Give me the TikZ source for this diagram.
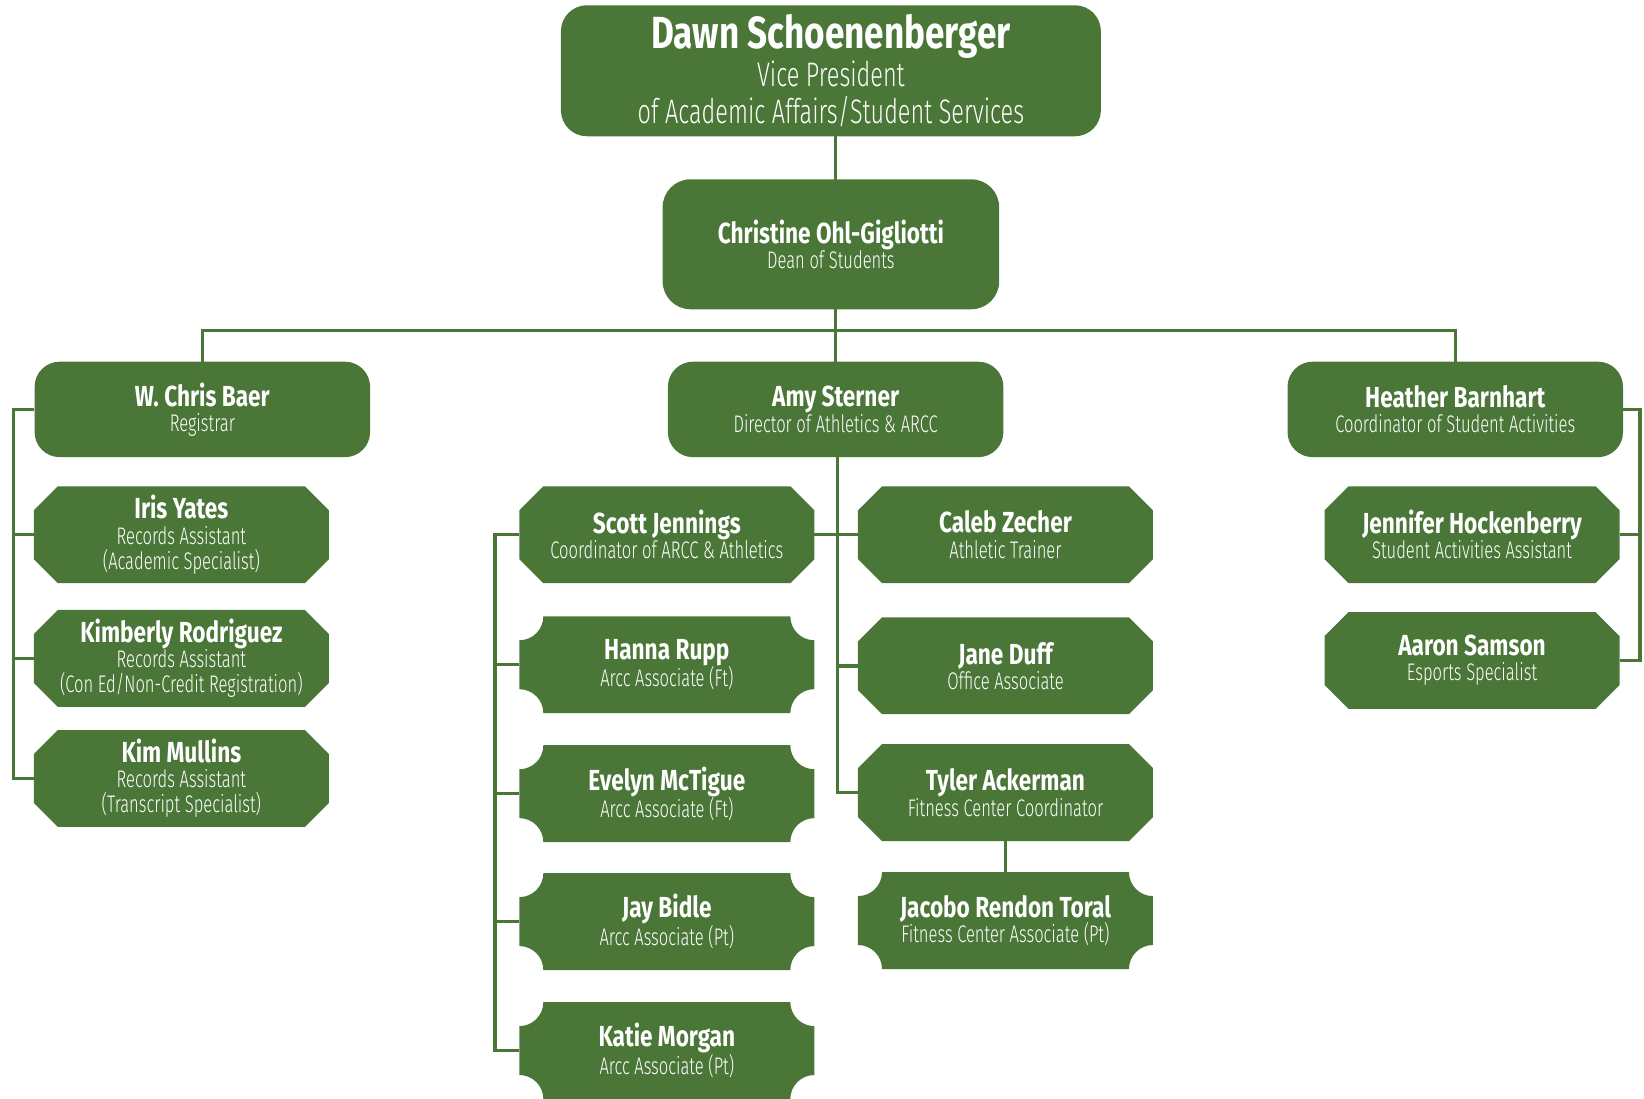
\documentclass[tikz,border=0pt]{standalone}
\usepackage{fontspec}
\setmainfont{Fira Sans}
\newfontfamily\nmfont{Fira Sans}[FakeStretch=0.78]
\newfontfamily\ltfont{Fira Sans Light}[FakeStretch=0.69]
\usetikzlibrary{backgrounds}
\pgfdeclarelayer{shapes}
\pgfsetlayers{background,shapes,main}
\definecolor{gr}{HTML}{4A7637}
\newcommand{\nm}[1]{{\nmfont\bfseries\fontsize{29}{25.2}\selectfont #1}}
\newcommand{\bignm}[1]{{\nmfont\bfseries\fontsize{45}{37}\selectfont #1}}
\newcommand{\octfill}[1]{%
  \fill[gr] ([xshift=24pt]#1.north west) -- ([xshift=-24pt]#1.north east)
    -- ([yshift=-24pt]#1.north east) -- ([yshift=24pt]#1.south east)
    -- ([xshift=-24pt]#1.south east) -- ([xshift=24pt]#1.south west)
    -- ([yshift=24pt]#1.south west) -- ([yshift=-24pt]#1.north west) -- cycle;}
\newcommand{\tktfill}[1]{%
  \fill[gr] ([xshift=24pt]#1.north west) -- ([xshift=-24pt]#1.north east)
    arc[start angle=180, end angle=270, radius=24pt]
    -- ([yshift=24pt]#1.south east)
    arc[start angle=90, end angle=180, radius=24pt]
    -- ([xshift=24pt]#1.south west)
    arc[start angle=0, end angle=90, radius=24pt]
    -- ([yshift=-24pt]#1.north west)
    arc[start angle=270, end angle=360, radius=24pt] -- cycle;}
\tikzset{
  box/.style={text=white, align=center, inner sep=0pt,
    font=\ltfont\fontsize{24}{25.2}\selectfont},
  rbox/.style={box, fill=gr, rounded corners=25pt, minimum width=335.5pt, minimum height=95.4pt},
  obox/.style={box, minimum width=294.6pt, minimum height=96.5pt},
  tbox/.style={box, minimum width=294.6pt, minimum height=96.5pt},
  conn/.style={draw=gr, line width=3.5pt}
}
\begin{document}
\begin{tikzpicture}[x=1.0485pt,y=-1.0485pt]
\useasboundingbox (0,0) rectangle (1568,1048);
% top levels
\node[box, fill=gr, rounded corners=26pt, minimum width=540pt, minimum height=131pt,
  font=\ltfont\fontsize{34}{37.5}\selectfont] (dawn) at (792.5,67.5)
  {\bignm{Dawn Schoenenberger}\\Vice President\\of Academic Affairs/Student Services};
\node[box, fill=gr, rounded corners=28pt, minimum width=336.6pt, minimum height=130pt] (christine) at (792.5,233)
  {\nm{Christine Ohl-Gigliotti}\\Dean of Students};
\node[rbox] (baer) at (193,390.5) {\nm{W. Chris Baer}\\Registrar};
\node[rbox] (amy) at (797,390.5) {\nm{Amy Sterner}\\Director of Athletics \& ARCC};
\node[rbox] (barnhart) at (1388,390.5) {\nm{Heather Barnhart}\\Coordinator of Student Activities};
% left column
\node[obox] (iris) at (173,510) {\nm{Iris Yates}\\Records Assistant\\(Academic Specialist)};
\node[obox] (kimberly) at (173,628) {\nm{Kimberly Rodriguez}\\Records Assistant\\(Con Ed/Non-Credit Registration)};
\node[obox] (mullins) at (173,742.5) {\nm{Kim Mullins}\\Records Assistant\\(Transcript Specialist)};
% middle left column
\node[obox] (scott) at (636,510) {\nm{Scott Jennings}\\Coordinator of ARCC \& Athletics};
\node[tbox] (hanna) at (636,634) {\nm{Hanna Rupp}\\Arcc Associate (Ft)};
\node[tbox] (evelyn) at (636,757) {\nm{Evelyn McTigue}\\Arcc Associate (Ft)};
\node[tbox] (jay) at (636,879) {\nm{Jay Bidle}\\Arcc Associate (Pt)};
\node[tbox] (katie) at (636,1002) {\nm{Katie Morgan}\\Arcc Associate (Pt)};
% middle right column
\node[obox] (caleb) at (959,510) {\nm{Caleb Zecher}\\Athletic Trainer};
\node[obox] (jane) at (959,635) {\nm{Jane Duff}\\Office Associate};
\node[obox] (tyler) at (959,756) {\nm{Tyler Ackerman}\\Fitness Center Coordinator};
\node[tbox] (jacobo) at (959,878) {\nm{Jacobo Rendon Toral}\\Fitness Center Associate (Pt)};
% right column
\node[obox] (jennifer) at (1404,510) {\nm{Jennifer Hockenberry}\\Student Activities Assistant};
\node[obox] (aaron) at (1404,630) {\nm{Aaron Samson}\\Esports Specialist};
% box shapes
\begin{pgfonlayer}{shapes}
\foreach \n in {iris,kimberly,mullins,scott,caleb,jane,tyler,jennifer,aaron} {\octfill{\n}}
\foreach \n in {hanna,evelyn,jay,katie,jacobo} {\tktfill{\n}}
\end{pgfonlayer}
% helper coordinates
\coordinate (bar) at (0,315);
\coordinate (lx) at (13,0);
\coordinate (sx) at (472,0);
\coordinate (ax) at (799,0);
\coordinate (rx) at (1564,0);
\begin{scope}[on background layer]
\draw[conn] (dawn.south -| amy.north) -- (amy.north);
\draw[conn] (baer.north) -- (baer.north |- bar) -- (barnhart.north |- bar) -- (barnhart.north);
% registrar
\draw[conn] (baer.west) -- (baer.west -| lx) -- (mullins.west -| lx) -- (mullins.west);
\draw[conn] (iris.west -| lx) -- (iris.west);
\draw[conn] (kimberly.west -| lx) -- (kimberly.west);
% athletics
\draw[conn] (amy.south -| ax) -- (tyler.west -| ax) -- (tyler.west);
\draw[conn] (scott.east) -- (caleb.west);
\draw[conn] (jane.west -| ax) -- (jane.west);
\draw[conn] (tyler.south) -- (jacobo.north);
\draw[conn] (scott.west) -- (scott.west -| sx) -- (katie.west -| sx) -- (katie.west);
\draw[conn] (hanna.west -| sx) -- (hanna.west);
\draw[conn] (evelyn.west -| sx) -- (evelyn.west);
\draw[conn] (jay.west -| sx) -- (jay.west);
% student activities
\draw[conn] (barnhart.east) -- (barnhart.east -| rx) -- (aaron.east -| rx) -- (aaron.east);
\draw[conn] (jennifer.east -| rx) -- (jennifer.east);
\end{scope}
\end{tikzpicture}
\end{document}
